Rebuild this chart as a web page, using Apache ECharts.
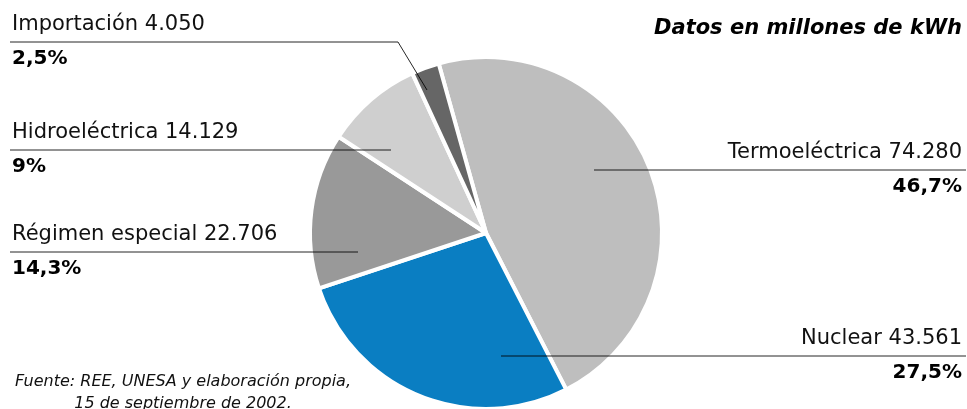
<!DOCTYPE html>
<html>
<head>
<meta charset="utf-8">
<script src="https://cdn.jsdelivr.net/npm/echarts@6/dist/echarts.min.js"></script>
<style>
html,body{margin:0;padding:0;background:#fff;}
#c{width:967px;height:409px;}
</style>
</head>
<body>
<div id="c"></div>
<script>
// Data
var categories = ['Termoeléctrica', 'Nuclear', 'Régimen especial', 'Hidroeléctrica', 'Importación'];
var values = [74280, 43561, 22706, 14129, 4050];
var percentLabels = ['46,7%', '27,5%', '14,3%', '9%', '2,5%'];
var colors = ['#bebebe', '#0a7ec2', '#999999', '#cfcfcf', '#666666'];

// Label layout (annotation positions)
var labelLayouts = [
  {side: 'right', lineY: 170, inner: [594, 170], knee: null},
  {side: 'right', lineY: 356, inner: [501, 356], knee: null},
  {side: 'left',  lineY: 252, inner: [358, 252], knee: null},
  {side: 'left',  lineY: 150, inner: [391, 150], knee: null},
  {side: 'left',  lineY: 42,  inner: [427, 90],  knee: [398, 42]}
];
var leftX = 10, rightX = 966, textLeftX = 12, textRightX = 962;

function fmt(v) {
  return String(v).replace(/\B(?=(\d{3})+(?!\d))/g, '.');
}

var FONT = 'DejaVu Sans';
var leaderLines = labelLayouts.map(function (L) {
  var endX = L.side === 'left' ? leftX : rightX;
  var pts = [L.inner];
  if (L.knee) pts.push(L.knee);
  pts.push([endX, L.lineY]);
  return {
    type: 'polyline', z: 100, silent: true,
    shape: {points: pts},
    style: {stroke: 'rgba(0,0,0,0.85)', lineWidth: 1, fill: null}
  };
});

var chart = echarts.init(document.getElementById('c'), null, {renderer: 'canvas'});
chart.setOption({
  animation: false,
  backgroundColor: '#ffffff',
  title: {
    text: 'Datos en millones de kWh',
    right: 0, top: 13,
    textStyle: {fontFamily: FONT, fontSize: 21, fontWeight: 'bold', fontStyle: 'italic', color: '#000'}
  },
  graphic: leaderLines.concat([{
    type: 'text', x: 183, y: 371, z: 100,
    style: {
      text: 'Fuente: REE, UNESA y elaboración propia,\n15 de septiembre de 2002.',
      fontFamily: FONT, fontSize: 16, fontStyle: 'italic', fill: '#111',
      lineHeight: 22, align: 'center'
    }
  }]),
  series: [{
    type: 'pie',
    center: [486, 233],
    radius: [0, 176],
    startAngle: 105.6,
    clockwise: true,
    silent: true,
    itemStyle: {borderColor: '#ffffff', borderWidth: 4},
    data: categories.map(function (c, i) {
      return {name: c, value: values[i], itemStyle: {color: colors[i]}};
    }),
    label: {
      show: true,
      overflow: 'none',
      width: 400,
      formatter: function (p) {
        var i = p.dataIndex;
        return '{n|' + p.name + ' ' + fmt(p.value) + '}\n{p|' + percentLabels[i] + '}';
      },
      rich: {
        n: {fontFamily: FONT, fontSize: 21, color: '#111', lineHeight: 34},
        p: {fontFamily: FONT, fontSize: 20, fontWeight: 'bold', color: '#000', lineHeight: 34}
      }
    },
    labelLine: {show: false},
    labelLayout: function (params) {
      var L = labelLayouts[params.dataIndex];
      return {
        x: L.side === 'left' ? textLeftX : textRightX,
        y: L.lineY,
        align: L.side === 'left' ? 'left' : 'right',
        verticalAlign: 'middle'
      };
    }
  }]
});
</script>
</body>
</html>
